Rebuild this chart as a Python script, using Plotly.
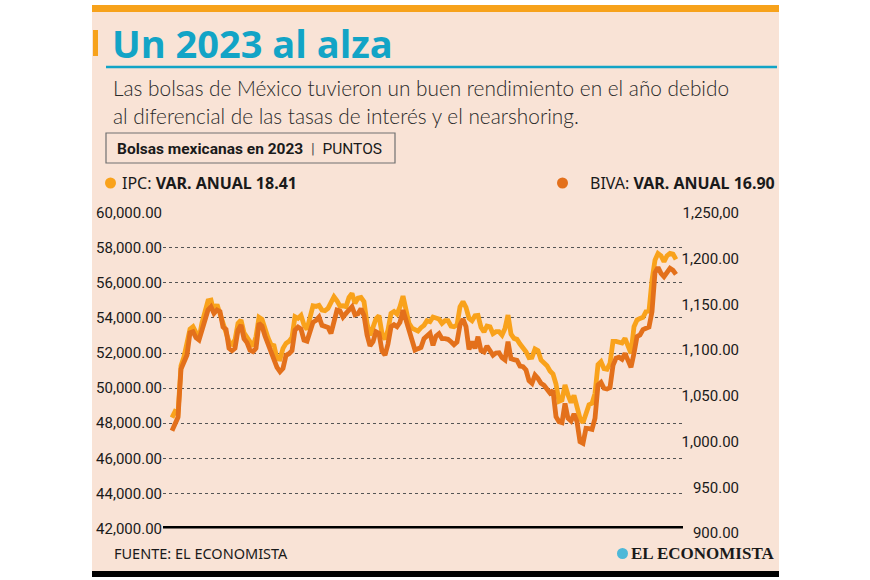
import plotly.graph_objects as go
import pandas as pd

W, H = 870, 580

# ---------------- data ----------------
dates = pd.date_range("2023-01-02", "2023-12-29", periods=169)

ipc = [
    48317, 48659, 48564, 51280, 51792, 52552, 53368, 53501, 53217, 52837,
    53729, 54261, 54983, 55021, 54318, 54774, 54261, 53881, 53217, 52647,
    52514, 52742, 53691, 53881, 53160, 52875, 52552, 52381, 52932, 54033,
    53919, 53311, 52875, 52476, 52419, 51678, 51659, 52267, 52552, 52666,
    52894, 54071, 53976,
    54146, 53596, 53349, 54070, 54697, 54659, 54716, 54450, 54412, 54545,
    54830, 55210, 54982, 54678, 54697, 54640, 55172, 55400, 54830, 55134,
    55172, 54925, 53691, 53007, 53463, 53956, 54127, 53121, 52779, 53311,
    54260, 54374, 54222, 54640, 55248, 54507, 53691, 53425, 53311, 53254,
    53444, 53577, 53843,
    53786, 54052, 53976, 53938, 53691, 53843, 53843, 53539, 53501, 53596,
    54641, 54926, 54603, 53976, 53843, 54128, 54147, 53463, 53198, 53539,
    53501, 53103, 53217, 53217, 53027, 53406, 54166, 53084, 52837, 52780,
    52514, 52305, 52077, 51735, 51754, 52229, 52134, 51602, 51450, 51280,
    50976,
    50805, 50235, 49248, 49324, 50178, 49609, 49172, 49590, 48868, 48279,
    48032, 48564, 49058, 49134, 49704, 51337, 51508, 51109, 51071, 51413,
    52666, 52666, 52590, 52571, 52837, 52457, 51982, 53502, 53881, 53976,
    54033, 54356, 54394, 56160, 57300, 57679, 57546, 57205, 57546, 57679,
    57641, 57338,
]

biva = [
    1011.9, 1019.9, 1026.5, 1079.4, 1086.6, 1094.7, 1119.1, 1120.2, 1113.6, 1111.1,
    1122.0, 1132.9, 1143.9, 1147.5, 1140.2, 1143.9, 1142.1, 1125.3, 1122.7, 1102.0,
    1099.4, 1102.0, 1122.0, 1127.5, 1112.5, 1108.2, 1099.8, 1098.3, 1102.0, 1129.3,
    1126.4, 1115.4, 1106.7, 1098.7, 1092.8, 1081.2, 1076.4, 1080.1, 1094.3, 1096.1,
    1099.4, 1122.0, 1125.3,
    1123.1, 1111.0, 1109.9, 1120.1, 1130.4, 1132.5, 1136.2, 1127.1, 1125.6, 1124.9,
    1118.3, 1132.9, 1143.8, 1142.8, 1136.2, 1140.2, 1143.8, 1147.5, 1138.7, 1139.8,
    1145.3, 1138.0, 1116.9, 1104.8, 1109.2, 1120.1, 1118.3, 1099.0, 1094.6, 1106.7,
    1125.6, 1127.8, 1125.6, 1130.4, 1143.8, 1132.9, 1119.4, 1106.7, 1100.1, 1101.6,
    1103.0, 1112.5, 1114.7,
    1118.4, 1105.2, 1115.4, 1118.0, 1112.5, 1112.5, 1111.8, 1109.2, 1106.0, 1108.9,
    1127.5, 1134.0, 1125.7, 1100.9, 1109.2, 1102.0, 1114.7, 1099.4, 1097.9, 1104.5,
    1098.3, 1094.3, 1096.9, 1097.2, 1091.7, 1089.2, 1109.2, 1090.7, 1089.6, 1088.8,
    1082.6, 1081.9, 1078.3, 1066.6, 1063.7, 1072.8, 1069.1, 1063.7, 1061.5, 1056.4,
    1053.1,
    1055.7, 1027.3, 1021.8, 1020.7, 1041.8, 1025.4, 1022.5, 1030.2, 1021.8, 999.9,
    998.1, 1014.5, 1014.1, 1013.4, 1025.4, 1061.9, 1064.8, 1058.3, 1057.5, 1059.0,
    1083.4, 1091.1, 1092.2, 1090.0, 1096.5, 1089.2, 1081.2, 1096.5, 1114.8, 1116.6,
    1122.4, 1123.9, 1125.3, 1142.1, 1184.8, 1190.6, 1184.0, 1180.4, 1184.8, 1189.5,
    1187.3, 1182.9,
]

left_ticks = [42000, 44000, 46000, 48000, 50000, 52000, 54000, 56000, 58000, 60000]
left_labels = ["42,000.00", "44,000.00", "46,000.00", "48,000.00", "50,000.00",
               "52,000.00", "54,000.00", "56,000.00", "58,000.00", "60,000.00"]
right_ticks = [900, 950, 1000, 1050, 1100, 1150, 1200, 1250]
right_labels = ["900.00", "950.00", "1,000.00", "1,050.00", "1,100.00",
                "1,150.00", "1,200.00", "1,250,00"]

ipc_name = "IPC"
biva_name = "BIVA"
ipc_var = "18.41"
biva_var = "16.90"

# ---------------- style ----------------
PANEL = "#F9E3D6"
IPC_C = "#F9A21B"
BIVA_C = "#E3701B"
TEAL = "#12A4C6"
ORANGE = "#F7A21B"
TXT = "#2a2a2a"
SANS = "Noto Sans, Liberation Sans, sans-serif"
TICKF = "Roboto, Liberation Sans, sans-serif"


def px(x):
    return x / W


def py(y):
    return 1 - y / H


days_per_px = 361 / (676 - 172)
x_start = dates[0] - pd.Timedelta(days=9 * days_per_px)
x_end = dates[-1] + pd.Timedelta(days=7 * days_per_px)

fig = go.Figure()
fig.add_trace(go.Scatter(x=dates, y=ipc, mode="lines", name=ipc_name,
                         line=dict(color=IPC_C, width=4.8), yaxis="y",
                         hoverinfo="skip"))
fig.add_trace(go.Scatter(x=dates, y=biva, mode="lines", name=biva_name,
                         line=dict(color=BIVA_C, width=4.8), yaxis="y2",
                         hoverinfo="skip"))

shapes = [
    dict(type="rect", xref="paper", yref="paper", x0=px(92), x1=px(779),
         y0=py(577), y1=py(5), fillcolor=PANEL, line=dict(width=0), layer="below"),
    dict(type="rect", xref="paper", yref="paper", x0=px(92), x1=px(779),
         y0=py(12), y1=py(5), fillcolor=ORANGE, line=dict(width=0)),
    dict(type="rect", xref="paper", yref="paper", x0=px(93), x1=px(98),
         y0=py(56), y1=py(30), fillcolor=ORANGE, line=dict(width=0)),
    dict(type="line", xref="paper", yref="paper", x0=px(106), x1=px(777),
         y0=py(67), y1=py(67), line=dict(color=TEAL, width=2.5)),
    dict(type="rect", xref="paper", yref="paper", x0=px(106), x1=px(395),
         y0=py(163), y1=py(133), line=dict(color="#707070", width=1.2)),
    dict(type="circle", xref="paper", yref="paper", x0=px(105), x1=px(116),
         y0=py(188.5), y1=py(177.5), fillcolor=IPC_C, line=dict(width=0)),
    dict(type="circle", xref="paper", yref="paper", x0=px(557), x1=px(568),
         y0=py(188.5), y1=py(177.5), fillcolor=BIVA_C, line=dict(width=0)),
    dict(type="line", xref="x domain", yref="y", x0=0, x1=1, y0=42000, y1=42000,
         line=dict(color="black", width=5)),
    dict(type="rect", xref="paper", yref="paper", x0=px(92), x1=px(779),
         y0=py(577), y1=py(571), fillcolor="black", line=dict(width=0)),
    dict(type="circle", xref="paper", yref="paper", x0=px(617), x1=px(628),
         y0=py(559), y1=py(548), fillcolor="#4DB8D8", line=dict(width=0)),
]

annotations = [
    dict(text="<b>Un 2023 al alza</b>", x=px(110), y=py(43), xanchor="left",
         yanchor="middle", font=dict(family="Open Sans", size=38, color=TEAL)),
    dict(text="Las bolsas de México tuvieron un buen rendimiento en el año debido",
         x=px(111), y=py(88), xanchor="left", yanchor="middle",
         font=dict(family="Lato", size=20.8, color=TXT, weight=300)),
    dict(text="al diferencial de las tasas de interés y el nearshoring.",
         x=px(111), y=py(116), xanchor="left", yanchor="middle",
         font=dict(family="Lato", size=20.8, color=TXT, weight=300)),
    dict(text=("<b>Bolsas mexicanas en 2023</b>  "
               "<span style='color:#555555'>|</span>  PUNTOS"),
         x=px(115), y=py(149), xanchor="left", yanchor="middle",
         font=dict(family=TICKF, size=15.5, color="#1a1a1a")),
    dict(text=f"{ipc_name}: <b>VAR. ANUAL {ipc_var}</b>", x=px(120), y=py(183),
         xanchor="left", yanchor="middle",
         font=dict(family=SANS, size=16, color="#1a1a1a")),
    dict(text=f"{biva_name}: <b>VAR. ANUAL {biva_var}</b>", x=px(777), y=py(183),
         xanchor="right", yanchor="middle",
         font=dict(family=SANS, size=16, color="#1a1a1a")),
    dict(text="FUENTE: EL ECONOMISTA", x=px(112), y=py(553), xanchor="left",
         yanchor="middle", font=dict(family=SANS, size=14.5, color="#1a1a1a")),
    dict(text="<b>EL ECONOMISTA</b>", x=px(777), y=py(553), xanchor="right",
         yanchor="middle",
         font=dict(family="Liberation Serif", size=17, color="#1a1a1a")),
]
for a in annotations:
    a.update(xref="paper", yref="paper", showarrow=False)

fig.update_layout(
    width=W, height=H,
    margin=dict(l=0, r=0, t=0, b=0, pad=0, autoexpand=False),
    paper_bgcolor="white",
    plot_bgcolor="rgba(0,0,0,0)",
    showlegend=False,
    shapes=shapes,
    annotations=annotations,
    xaxis=dict(domain=[px(163), px(683)], range=[x_start, x_end], visible=False,
               fixedrange=True),
    yaxis=dict(domain=[py(528.5), py(212.7)], range=[42000, 60000],
               tickvals=left_ticks, ticktext=left_labels, ticks="",
               showgrid=True, gridcolor="#555555", gridwidth=1, griddash="dot",
               zeroline=False, showline=False, automargin=False,
               tickfont=dict(family=TICKF, size=15, color="#1a1a1a")),
    yaxis2=dict(domain=[py(533), py(213)], range=[900, 1250], anchor="free",
                position=px(739), side="left", automargin=False,
                tickvals=right_ticks, ticktext=right_labels, ticks="",
                showgrid=False, zeroline=False, showline=False,
                tickfont=dict(family=TICKF, size=15, color="#1a1a1a")),
)

fig.write_html("out.html",
               config={"displayModeBar": False, "staticPlot": True},
               post_script="document.body.style.margin='0px';"
                           "document.body.style.overflow='hidden';")
